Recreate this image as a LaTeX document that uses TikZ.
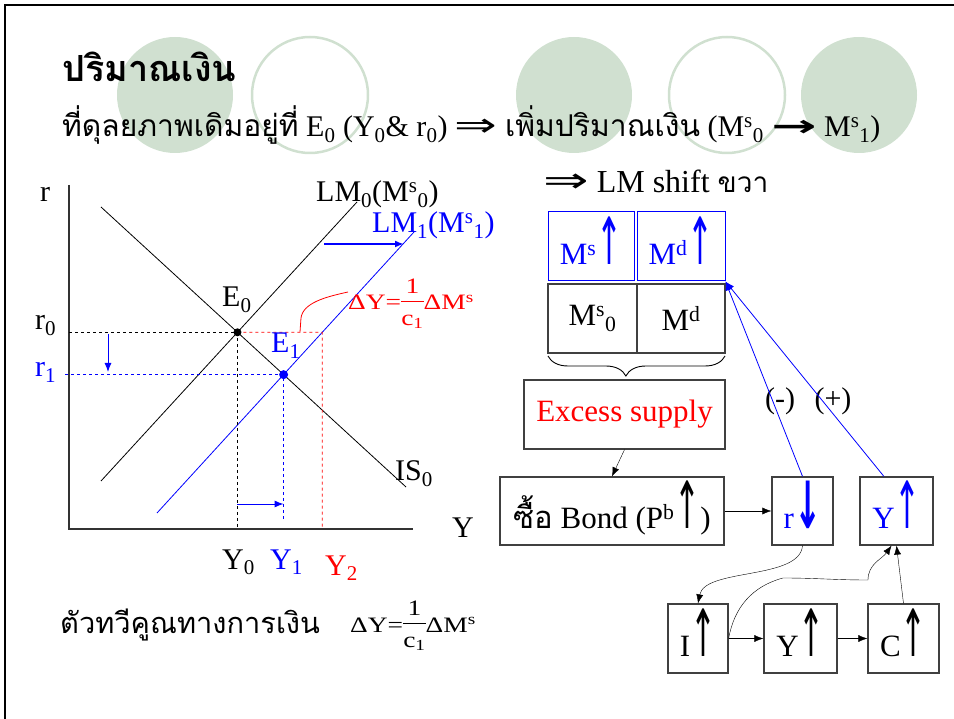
\documentclass[tikz,border=0pt]{standalone}
\usepackage{fontspec}
\setmainfont{Liberation Serif}
\newfontfamily\thai[Script=Thai]{Loma}
\newfontfamily\symb{DejaVu Sans}
\usepackage{xcolor}
\usetikzlibrary{arrows.meta, positioning, calc, decorations.pathreplacing}

\definecolor{ringgreen}{RGB}{208,224,208}
\newcommand{\fbig}{\fontsize{30}{34}\selectfont}
\newcommand{\fboxtxt}{\fontsize{31}{35}\selectfont}
\newcommand{\fsmall}{\fontsize{22}{25}\selectfont}
\newcommand{\lowr}[1]{\textsubscript{#1}}
\newcommand{\uppr}[1]{\textsuperscript{#1}}
\newcommand{\uarr}{\scalebox{1}[2.1]{\symb ↑}}
\newcommand{\darr}{\scalebox{1.05}[2.1]{\symb\bfseries ↓}}
\newcommand{\thenarr}{\scalebox{1.7}[1.1]{\symb ⇒}}
\newcommand{\toarr}{\scalebox{1.8}[1]{\symb\bfseries →}}
\newcommand{\frc}[2]{\begin{tabular}[c]{@{}c@{}}#1\\\hline\rule{0pt}{24pt}#2\end{tabular}}
\newcommand{\multiplier}{\scalebox{1.25}[1]{ΔY=\frc{1}{c\lowr{1}}ΔM\uppr{s}}}

\begin{document}
\begin{tikzpicture}[
    x=1pt, y=-1pt,
    >={Latex[length=9pt,width=7pt]},
    txt/.style   = {anchor=base west, inner sep=0pt, font=\fbig},
    ring/.style  = {circle, minimum size=116pt, inner sep=0pt},
    box/.style   = {draw=black!75, line width=1.3pt, inner sep=0pt, font=\fboxtxt},
    bluebox/.style = {draw=blue, line width=1pt, inner sep=0pt, font=\fboxtxt, text=blue},
    arrbox/.style = {text depth=12pt},
    curve/.style = {line width=0.8pt},
    guide/.style = {dashed, line width=0.8pt}
]
    \useasboundingbox (0,0) rectangle (954,719);

    % background rings
    \node[ring, fill=ringgreen] (ring1) at (175,95) {};
    \node[ring, draw=ringgreen, line width=2.5pt] (ring2) at (310,95) {};
    \node[ring, fill=ringgreen] (ring3) at (574,95) {};
    \node[ring, draw=ringgreen, line width=2.5pt] (ring4) at (727,95) {};
    \node[ring, fill=ringgreen] (ring5) at (859,95) {};

    % slide frame
    \draw[line width=2.5pt] (5,719) -- (5,5) -- (954,5);

    % heading
    \node[txt] (title) at (62,82) {\fontsize{36}{40}\selectfont\thai\bfseries ปริมาณเงิน};
    \node[txt] (line2) at (62,137) {{\thai ที่ดุลยภาพเดิมอยู่ที่} E\lowr{0} (Y\lowr{0}\& r\lowr{0}) \thenarr\ {\thai เพิ่มปริมาณเงิน} (M\uppr{s}\lowr{0} \toarr\ M\uppr{s}\lowr{1})};
    \node[txt, font=\fontsize{32}{36}\selectfont] (line3) at (543,193) {\thenarr\ LM shift {\thai\fontsize{28}{32}\selectfont ขวา}};

    % IS-LM graph
    \coordinate (O) at (69,529);
    \coordinate (IStop) at (101,207);
    \coordinate (ISbot) at (406,487);
    \coordinate (LMa) at (101,481);
    \coordinate (LMb) at (357,202);
    \coordinate (LMc) at (157,513);
    \coordinate (LMd) at (414,232);
    \coordinate (E0) at (intersection of IStop--ISbot and LMa--LMb);
    \coordinate (E1) at (intersection of IStop--ISbot and LMc--LMd);
    \coordinate (E0r) at ($(E0)+(200,0)$);
    \coordinate (E2) at (intersection of E0--E0r and LMc--LMd);

    \draw[line width=1.4pt, black!80] (69,185) -- (O) -- (413,529);
    \draw[curve] (IStop) -- (ISbot);
    \draw[curve] (LMa) -- (LMb);
    \draw[curve, blue] (LMc) -- (LMd);

    \draw[guide] (E0 -| O) -- (E0) -- (E0 |- O);
    \draw[guide, red] (E0) -- (E2) -- (E2 |- O);
    \draw[guide, blue] ($(E1 -| O)+(-4,0)$) -- (E1) -- ($(E1 |- O)+(0,-9)$);

    \draw[->, blue, line width=1pt] (108,334) -- (108,372);
    \draw[->, blue, line width=1pt] (E0 |- 0,504) -- (E1 |- 0,504);
    \draw[->, blue, line width=2.5pt] (324,244) -- (404,244);

    \fill (E0) circle (4);
    \fill[blue] (E1) circle (4.5);

    \node[txt] (rlab) at (40,202) {r};
    \node[txt] (Ylab) at (452,537) {Y};
    \node[txt] (r0) at (35,330) {r\lowr{0}};
    \node[txt, text=blue] (r1) at (35,377) {r\lowr{1}};
    \node[txt] (E0lab) at (222,307) {E\lowr{0}};
    \node[txt, text=blue] (E1lab) at (271,353) {E\lowr{1}};
    \node[txt] (LM0lab) at (316,202) {LM\lowr{0}(M\uppr{s}\lowr{0})};
    \node[txt, text=blue] (LM1lab) at (372,233) {LM\lowr{1}(M\uppr{s}\lowr{1})};
    \node[txt] (ISlab) at (395,481) {IS\lowr{0}};
    \node[txt] (Y0) at (222,569) {Y\lowr{0}};
    \node[txt, text=blue] (Y1) at (270,569) {Y\lowr{1}};
    \node[txt, text=red] (Y2) at (325,575) {Y\lowr{2}};

    % red multiplier note
    \node[anchor=base west, inner sep=0pt, font=\fsmall, text=red] (dYred) at (348,310) {\multiplier};
    \draw[red, line width=0.8pt] (300,332) -- (301,318) .. controls (303,303) and (325,297) .. (348,292);

    % money market boxes
    \node[bluebox, arrbox, minimum width=86pt, minimum height=69pt] (msup) at (591,246.5) {M\uppr{s}\uarr};
    \node[bluebox, arrbox, minimum width=88pt, minimum height=69pt] (mdup) at (681,246.5) {M\uppr{d}\uarr};
    \node[box, minimum width=89pt, minimum height=69pt] (ms0) at (592.5,318.5) {M\uppr{s}\lowr{0}};
    \node[box, minimum width=88pt, minimum height=69pt] (md) at (681,318.5) {M\uppr{d}};
    \draw[decorate, decoration={brace, mirror, amplitude=20pt, aspect=0.44}, line width=0.9pt]
        (548,356) -- (725,356);
    \node[box, minimum width=201pt, minimum height=69pt, text=red] (excess) at (624.5,414.5) {Excess supply};
    \node[box, arrbox, minimum width=224pt, minimum height=68pt] (bond) at (612,511) {{\thai ซื้อ} Bond (P\uppr{b}\uarr)};
    \node[box, arrbox, minimum width=61pt, minimum height=68pt, text=blue] (rdown) at (802.5,511) {r\darr};
    \node[box, arrbox, minimum width=73pt, minimum height=68pt, text=blue] (yup) at (896.5,511) {Y\uarr};
    \node[box, arrbox, minimum width=60pt, minimum height=69pt] (iup) at (698,638.5) {I\uarr};
    \node[box, arrbox, minimum width=73pt, minimum height=69pt] (yup2) at (800.5,638.5) {Y\uarr};
    \node[box, arrbox, minimum width=71pt, minimum height=69pt] (cup) at (903.5,638.5) {C\uarr};

    \node[font=\fbig] (minus) at (780,401) {(-)};
    \node[font=\fbig] (plus) at (833,401) {(+)};

    % connectors
    \draw[->, blue, line width=0.8pt] (rdown.north) -- (mdup.south east);
    \draw[->, blue, line width=0.8pt] ($(yup.north west)!0.33!(yup.north east)$) -- (mdup.south east);
    \draw[->] (excess.south) -- (bond.north);
    \draw[->] (bond) -- (rdown);
    \draw[->] (rdown.south) .. controls (800,580) and (705,568) .. (iup.north);
    \draw[->] (iup) -- (yup2);
    \draw[->] (yup2) -- (cup);
    \draw[->] (cup.north) -- (yup.south);
    \draw[->] (iup.east) to[out=80, in=195] (783,578) to[out=0, in=180] (868,580)
        to[out=90, in=235] ($(yup.south)+(-5,0)$);

    % bottom line
    \node[txt, font=\fontsize{29}{33}\selectfont] (multname) at (60,633) {\thai ตัวทวีคูณทางการเงิน};
    \node[anchor=base west, inner sep=0pt, font=\fsmall] (dYblack) at (350,632) {\multiplier};
\end{tikzpicture}
\end{document}
